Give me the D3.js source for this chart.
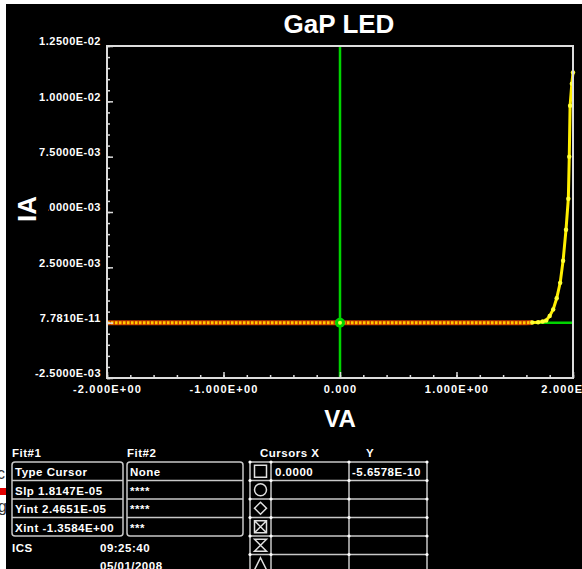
<!DOCTYPE html>
<html>
<head>
<meta charset="utf-8">
<script src="https://cdn.jsdelivr.net/npm/d3@7"></script>
<style>
  body { margin: 0; background: #fff; }
  svg { display: block; }
  text { font-family: "Liberation Sans", Arial, sans-serif; font-weight: bold; fill: #fff; }
  .cell { font-size: 11.5px; letter-spacing: 0.5px; }
</style>
</head>
<body>
<svg id="chart" width="582" height="569"></svg>
<script>
// chart text
const title = 'GaP LED'
const xLabel = 'VA'
const yLabel = 'IA'

// axes
const xTicks = [-2, -1, 0, 1, 2]
const xTickLabels = ['-2.000E+00', '-1.000E+00', '0.000', '1.000E+00', '2.000E+00']
const yTicks = [-0.0025, 0, 0.0025, 0.005, 0.0075, 0.01, 0.0125]
const yTickLabels = ['-2.5000E-03', '7.7810E-11', '2.5000E-03', '5.0000E-03', '7.5000E-03', '1.0000E-02', '1.2500E-02']

// IV sweep (flat until the knee around 1.65V)
const voltage = [-2.0, -1.5, -1.0, -0.5, 0.0, 0.5, 1.0, 1.5, 1.6, 1.65, 1.70, 1.74, 1.77, 1.80, 1.83, 1.86, 1.89, 1.915, 1.94, 1.96, 1.968, 1.975, 1.99, 2.0]
const current = [0, 0, 0, 0, 0, 0, 0, 0, 0, 0.00001, 0.00002, 0.00005, 0.0001, 0.0003, 0.0006, 0.0011, 0.0018, 0.0028, 0.0042, 0.0056, 0.0075, 0.0098, 0.0108, 0.0113]
const kneeVoltage = 1.65

// cursor position
const cursorX = 0
const cursorY = 0

// bottom panel
const fit1Rows = ['Type Cursor', 'Slp 1.8147E-05', 'Yint 2.4651E-05', 'Xint -1.3584E+00']
const fit2Rows = ['None', '****', '****', '***']
const cursorSymbols = ['square', 'circle', 'diamond', 'xbox', 'bowtie', 'triangle']
const cursorXValues = ['0.0000', '', '', '', '', '']
const cursorYValues = ['-5.6578E-10', '', '', '', '', '']
const instrument = 'ICS'
const timeText = '09:25:40'
const dateText = '05/01/2008'

const svg = d3.select('#chart')

// screenshot leftovers on the left edge
svg.append('rect').attr('x', 0).attr('y', 488).attr('width', 8).attr('height', 7).attr('fill', '#e00000')
svg.append('text').attr('x', -3).attr('y', 479).style('font-size', '16px').style('font-weight', 'normal').style('fill', '#333').text('c')
svg.append('text').attr('x', -2).attr('y', 512).style('font-size', '16px').style('font-weight', 'normal').style('fill', '#333').text('g')

svg.append('rect').attr('x', 6).attr('y', 4).attr('width', 576).attr('height', 565).attr('fill', '#000')

const plotLeft = 107, plotRight = 573, plotTop = 46, plotBottom = 378
const x = d3.scaleLinear().domain([-2, 2]).range([plotLeft, plotRight])
const y = d3.scaleLinear().domain([-0.0025, 0.0125]).range([plotBottom, plotTop])

svg.append('text')
   .attr('x', 339).attr('y', 33)
   .attr('text-anchor', 'middle')
   .style('font-size', '26px')
   .text(title)

// cursor lines under the data
const green = '#00d400'
svg.append('line')
   .attr('x1', plotLeft).attr('x2', plotRight)
   .attr('y1', y(cursorY)).attr('y2', y(cursorY))
   .attr('stroke', green).attr('stroke-width', 2.5)

const points = voltage.map((v, i) => ({ v: v, i: current[i] }))
const line = d3.line().x(d => x(d.v)).y(d => y(d.i))
const flat = points.filter(d => d.v <= kneeVoltage)
const knee = points.filter(d => d.v >= kneeVoltage)

svg.append('path').attr('d', line(flat))
   .attr('fill', 'none').attr('stroke', '#c83c00').attr('stroke-width', 5)
svg.append('path').attr('d', line(flat))
   .attr('fill', 'none').attr('stroke', '#ffcc00').attr('stroke-width', 3)
   .attr('stroke-dasharray', '2.5,1.5')

svg.append('path').attr('d', line(knee))
   .attr('fill', 'none').attr('stroke', '#ffee00').attr('stroke-width', 3)
svg.selectAll('.marker')
   .data(knee)
   .enter()
   .append('circle')
   .attr('class', 'marker')
   .attr('cx', d => x(d.v)).attr('cy', d => y(d.i))
   .attr('r', 2.2).attr('fill', '#ffff33')

svg.append('line')
   .attr('x1', x(cursorX)).attr('x2', x(cursorX))
   .attr('y1', plotTop).attr('y2', plotBottom)
   .attr('stroke', green).attr('stroke-width', 2.5)
svg.append('circle').attr('cx', x(cursorX)).attr('cy', y(cursorY)).attr('r', 5).attr('fill', green)
svg.append('circle').attr('cx', x(cursorX)).attr('cy', y(cursorY)).attr('r', 2).attr('fill', '#eeff44')

// frame
svg.append('rect')
   .attr('x', plotLeft).attr('y', plotTop)
   .attr('width', plotRight - plotLeft).attr('height', plotBottom - plotTop)
   .attr('fill', 'none').attr('stroke', '#dcdcdc').attr('stroke-width', 2)

// axes, ticks point inward
const styleAxis = spacing => g => {
  g.select('.domain').remove()
  g.selectAll('line').attr('stroke', '#dcdcdc').attr('stroke-width', 1.5)
  g.selectAll('text').style('font-size', '11px').style('letter-spacing', spacing).attr('fill', '#fff')
}

svg.append('g')
   .attr('transform', `translate(0,${plotBottom})`)
   .call(d3.axisBottom(x).tickValues(d3.range(-2, 2.001, 0.2)).tickSize(-3).tickFormat(''))
   .call(styleAxis('0px'))
svg.append('g')
   .attr('transform', `translate(0,${plotBottom})`)
   .call(d3.axisBottom(x).tickValues(xTicks).tickSize(-6).tickPadding(7).tickFormat((d, i) => xTickLabels[i]))
   .call(styleAxis('1.2px'))

svg.append('g')
   .attr('transform', `translate(${plotLeft},0)`)
   .call(d3.axisLeft(y).tickValues(d3.range(-0.0025, 0.01251, 0.0005)).tickSize(-3).tickFormat(''))
   .call(styleAxis('0px'))
svg.append('g')
   .attr('transform', `translate(${plotLeft},0)`)
   .call(d3.axisLeft(y).tickValues(yTicks).tickSize(-6).tickPadding(6).tickFormat((d, i) => yTickLabels[i]))
   .call(styleAxis('0.5px'))
   .selectAll('text').attr('dy', '-0.1em')

svg.append('text')
   .attr('x', 340).attr('y', 427)
   .attr('text-anchor', 'middle')
   .style('font-size', '24px')
   .text(xLabel)

// the axis title sits on its own black patch, hiding the start of one tick label
svg.append('rect').attr('x', 12).attr('y', 193).attr('width', 36).attr('height', 32).attr('fill', '#000')
svg.append('text')
   .attr('transform', 'translate(36,209) rotate(-90)')
   .attr('text-anchor', 'middle')
   .style('font-size', '26px')
   .text(yLabel)

// bottom panel
const rowTop = 462
const rowH = 18.5
const grid = '#c8c8c8'

const drawFitTable = (x0, x1, header, rows) => {
  svg.append('text').attr('class', 'cell').attr('x', x0).attr('y', 457).text(header)
  svg.append('rect')
     .attr('x', x0).attr('y', rowTop)
     .attr('width', x1 - x0).attr('height', rows.length * rowH)
     .attr('rx', 3)
     .attr('fill', 'none').attr('stroke', grid).attr('stroke-width', 1.5)
  svg.selectAll(null)
     .data(rows.slice(1))
     .enter()
     .append('line')
     .attr('x1', x0).attr('x2', x1)
     .attr('y1', (_, i) => rowTop + (i + 1) * rowH)
     .attr('y2', (_, i) => rowTop + (i + 1) * rowH)
     .attr('stroke', grid).attr('stroke-width', 1.5)
  svg.selectAll(null)
     .data(rows)
     .enter()
     .append('text')
     .attr('class', 'cell')
     .attr('x', x0 + 3)
     .attr('y', (_, i) => rowTop + i * rowH + 14)
     .text(d => d)
}

drawFitTable(12, 123, 'Fit#1', fit1Rows)
drawFitTable(127, 243, 'Fit#2', fit2Rows)

// cursor table
const cols = [250, 271, 349, 427]
svg.append('text').attr('class', 'cell').attr('x', 260).attr('y', 457).text('Cursors X')
svg.append('text').attr('class', 'cell').attr('x', 366).attr('y', 457).text('Y')

const tableBottom = rowTop + cursorSymbols.length * rowH
cols.forEach(cx => {
  svg.append('line').attr('x1', cx).attr('x2', cx).attr('y1', rowTop).attr('y2', tableBottom)
     .attr('stroke', grid).attr('stroke-width', 1.5)
})
d3.range(cursorSymbols.length + 1).forEach(r => {
  const ry = rowTop + r * rowH
  svg.append('line').attr('x1', cols[0]).attr('x2', cols[3]).attr('y1', ry).attr('y2', ry)
     .attr('stroke', grid).attr('stroke-width', 1.5)
  cols.forEach(cx => svg.append('circle').attr('cx', cx).attr('cy', ry).attr('r', 1.6).attr('fill', '#fff'))
})

const symbolPath = (kind, cx, cy) => {
  const s = 6
  switch (kind) {
    case 'square': return `M${cx - s},${cy - s}H${cx + s}V${cy + s}H${cx - s}Z`
    case 'circle': return `M${cx - s},${cy}A${s},${s} 0 1,0 ${cx + s},${cy}A${s},${s} 0 1,0 ${cx - s},${cy}`
    case 'diamond': return `M${cx},${cy - s}L${cx + s},${cy}L${cx},${cy + s}L${cx - s},${cy}Z`
    case 'xbox': return `M${cx - s},${cy - s}H${cx + s}V${cy + s}H${cx - s}ZM${cx - s},${cy - s}L${cx + s},${cy + s}M${cx + s},${cy - s}L${cx - s},${cy + s}`
    case 'bowtie': return `M${cx - s},${cy - s}H${cx + s}L${cx - s},${cy + s}H${cx + s}Z`
    case 'triangle': return `M${cx},${cy - s}L${cx + s},${cy + s}H${cx - s}Z`
  }
}

cursorSymbols.forEach((kind, r) => {
  const cy = rowTop + r * rowH + rowH / 2
  svg.append('path').attr('d', symbolPath(kind, (cols[0] + cols[1]) / 2, cy))
     .attr('fill', 'none').attr('stroke', '#e0e0e0').attr('stroke-width', 1.5)
  svg.append('text').attr('class', 'cell').attr('x', cols[1] + 4).attr('y', rowTop + r * rowH + 14).text(cursorXValues[r])
  svg.append('text').attr('class', 'cell').attr('x', cols[2] + 3).attr('y', rowTop + r * rowH + 14).text(cursorYValues[r])
})

svg.append('text').attr('class', 'cell').attr('x', 12).attr('y', 552).text(instrument)
svg.append('text').attr('class', 'cell').attr('x', 100).attr('y', 552).text(timeText)
svg.append('text').attr('class', 'cell').attr('x', 100).attr('y', 570).text(dateText)
</script>
</body>
</html>
